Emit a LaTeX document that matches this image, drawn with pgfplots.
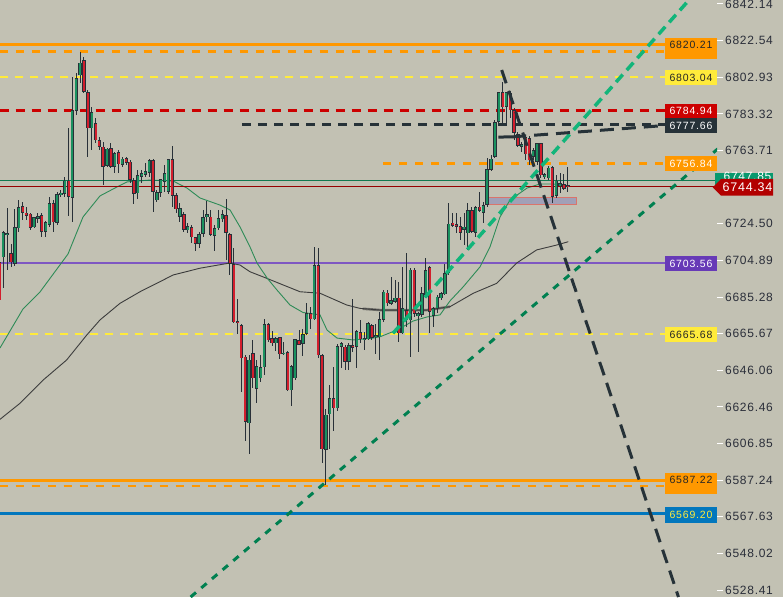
\documentclass[border=0pt]{standalone}
\usepackage{pgfplots}
\pgfplotsset{compat=1.18}
\usepackage{pgfplotstable}
\usepackage{fontspec}
\setmainfont{Liberation Sans}
\newfontfamily\tagfont{Liberation Sans}[LetterSpace=8]
\newfontfamily\pricefont{Liberation Sans}[LetterSpace=6]

\definecolor{bg}{RGB}{194,193,179}
\definecolor{upc}{RGB}{26,145,95}
\definecolor{dnc}{RGB}{210,30,45}
\definecolor{wick}{RGB}{40,48,56}
\definecolor{orangeL}{RGB}{255,152,0}
\definecolor{yellowL}{RGB}{255,235,59}
\definecolor{redL}{RGB}{204,0,0}
\definecolor{darkL}{RGB}{38,50,56}
\definecolor{purpleL}{RGB}{126,87,194}
\definecolor{purpleB}{RGB}{103,58,183}
\definecolor{blueL}{RGB}{2,119,189}
\definecolor{trendG}{RGB}{18,181,122}
\definecolor{trendD}{RGB}{0,128,80}
\definecolor{maG}{RGB}{46,139,87}
\definecolor{maK}{RGB}{60,60,60}
\definecolor{lineG}{RGB}{16,120,80}
\definecolor{lineR}{RGB}{150,0,0}
\definecolor{tagR}{RGB}{178,0,0}
\definecolor{tagG}{RGB}{8,153,110}
\definecolor{scaletext}{RGB}{42,46,57}

% candles: index, open, high, low, close
\pgfplotstableread{
i o h l c
0 6704.0 6706.7 6680.5 6683.7
1 6706.5 6720.8 6690.1 6720.2
2 6718.9 6732.9 6699.7 6719.7
3 6708.7 6713.7 6701.4 6703.9
4 6703.1 6732.4 6701.9 6722.6
5 6722.1 6737.2 6720.2 6733.3
6 6734.0 6736.3 6726.5 6730.6
7 6730.4 6733.6 6726.5 6728.8
8 6730.1 6730.3 6721.2 6722.6
9 6722.6 6728.3 6722.1 6728.0
10 6727.4 6730.3 6724.9 6728.7
11 6729.3 6730.3 6717.4 6720.2
12 6720.2 6726.1 6717.4 6725.3
13 6723.8 6739.0 6722.9 6735.5
14 6735.5 6737.2 6720.2 6725.3
15 6725.1 6741.7 6723.8 6740.3
16 6740.1 6742.6 6739.0 6741.1
17 6740.4 6749.7 6739.0 6747.6
18 6747.6 6775.6 6728.8 6739.0
19 6738.5 6803.2 6725.6 6785.4
20 6785.0 6805.4 6782.7 6802.4
21 6804.1 6816.4 6799.7 6810.9
22 6812.2 6813.6 6794.3 6795.2
23 6795.0 6796.1 6760.1 6775.6
24 6775.6 6787.2 6764.0 6784.3
25 6778.3 6781.1 6767.6 6769.3
26 6769.3 6771.1 6764.0 6765.8
27 6765.8 6768.4 6745.2 6755.0
28 6755.6 6765.2 6754.7 6764.9
29 6764.9 6767.6 6754.2 6755.0
30 6755.0 6763.1 6751.5 6762.2
31 6762.8 6764.0 6751.5 6756.3
32 6756.3 6760.1 6755.0 6759.5
33 6759.5 6760.4 6756.0 6757.2
34 6757.7 6758.6 6746.2 6747.9
35 6747.9 6748.8 6735.1 6740.4
36 6740.8 6753.3 6738.1 6750.6
37 6749.7 6753.3 6746.2 6751.8
38 6751.0 6756.9 6749.7 6752.7
39 6751.8 6759.5 6749.7 6758.6
40 6758.6 6759.5 6731.0 6741.7
41 6737.2 6742.6 6736.1 6741.7
42 6741.3 6748.8 6739.0 6748.3
43 6747.0 6756.0 6741.7 6751.8
44 6741.7 6759.5 6740.8 6759.0
45 6759.0 6766.1 6733.6 6739.4
46 6739.9 6740.8 6730.1 6732.2
47 6728.3 6735.5 6725.6 6732.8
48 6729.7 6731.0 6720.2 6721.5
49 6721.2 6724.7 6719.4 6723.3
50 6722.9 6723.8 6714.0 6717.3
51 6717.3 6717.6 6710.1 6713.7
52 6713.7 6720.2 6711.4 6719.0
53 6719.0 6731.9 6717.6 6728.0
54 6728.0 6736.8 6725.6 6729.6
55 6728.3 6731.9 6717.9 6718.5
56 6717.9 6723.8 6710.1 6722.1
57 6722.1 6731.9 6721.2 6727.4
58 6727.0 6731.9 6725.6 6729.6
59 6729.2 6737.6 6705.1 6719.7
60 6719.0 6719.6 6697.1 6703.0
61 6703.0 6711.4 6671.2 6671.7
62 6672.4 6684.1 6665.5 6671.2
63 6670.3 6671.2 6634.6 6652.5
64 6653.3 6654.2 6608.4 6618.5
65 6617.7 6654.2 6601.6 6651.9
66 6655.2 6662.3 6636.4 6641.8
67 6636.4 6651.6 6628.7 6648.4
68 6641.8 6654.2 6640.0 6647.7
69 6647.7 6673.4 6643.5 6670.8
70 6670.8 6671.5 6661.4 6662.3
71 6663.2 6667.3 6659.1 6660.5
72 6660.5 6664.0 6656.5 6663.2
73 6663.7 6664.0 6651.9 6654.6
74 6654.8 6661.4 6654.2 6655.7
75 6655.7 6656.5 6635.1 6635.5
76 6635.5 6648.9 6626.9 6648.4
77 6641.8 6663.2 6641.2 6662.7
78 6662.3 6667.6 6659.6 6660.0
79 6660.0 6668.5 6653.7 6665.5
80 6665.5 6682.2 6664.9 6676.6
81 6676.6 6680.1 6668.5 6673.4
82 6673.4 6711.9 6673.0 6702.4
83 6702.4 6711.9 6652.6 6654.2
84 6654.2 6654.8 6596.3 6603.8
85 6603.8 6625.3 6584.7 6622.5
86 6622.5 6638.2 6603.8 6631.1
87 6631.1 6647.7 6613.7 6625.7
88 6625.7 6660.5 6624.4 6659.1
89 6658.7 6661.4 6647.1 6660.5
90 6658.7 6659.6 6646.2 6650.7
91 6650.7 6660.5 6646.2 6659.6
92 6659.6 6684.1 6656.0 6658.2
93 6658.7 6667.6 6647.4 6667.1
94 6666.7 6673.0 6660.5 6662.7
95 6662.3 6666.7 6656.9 6663.2
96 6662.7 6672.1 6662.3 6671.2
97 6670.3 6670.8 6662.3 6663.7
98 6663.7 6671.2 6655.2 6664.9
99 6663.7 6677.4 6651.6 6673.4
100 6673.0 6689.4 6672.1 6688.1
101 6687.6 6689.0 6680.5 6681.9
102 6681.9 6695.8 6681.0 6683.7
103 6682.8 6694.4 6681.9 6685.1
104 6685.1 6693.5 6661.4 6665.9
105 6665.9 6701.2 6665.5 6679.2
106 6678.3 6708.7 6669.4 6673.0
107 6673.0 6700.7 6653.0 6700.1
108 6700.1 6700.7 6674.7 6676.6
109 6675.3 6677.4 6656.0 6676.6
110 6675.7 6690.5 6674.7 6687.3
111 6686.4 6706.5 6685.5 6699.7
112 6701.2 6701.9 6665.9 6677.4
113 6675.1 6680.1 6669.4 6679.2
114 6679.2 6686.4 6676.6 6685.5
115 6684.6 6688.1 6683.7 6687.3
116 6686.9 6703.0 6686.4 6698.3
117 6698.3 6735.5 6697.1 6724.7
118 6725.1 6730.1 6722.9 6723.5
119 6724.4 6730.4 6719.7 6722.9
120 6723.3 6728.3 6715.8 6719.7
121 6721.2 6730.1 6713.1 6722.9
122 6719.4 6735.5 6710.5 6731.9
123 6731.9 6733.6 6719.4 6720.2
124 6719.7 6734.0 6717.6 6733.6
125 6733.6 6741.7 6731.0 6731.5
126 6730.4 6736.3 6724.7 6734.5
127 6734.5 6759.5 6733.6 6753.7
128 6753.3 6761.3 6752.9 6759.5
129 6760.4 6780.0 6759.5 6779.1
130 6779.1 6795.2 6778.3 6794.9
131 6794.9 6800.5 6778.3 6786.8
132 6787.2 6795.2 6777.4 6794.9
133 6794.9 6795.7 6781.0 6785.4
134 6785.4 6786.5 6769.3 6773.1
135 6772.6 6773.8 6765.4 6766.3
136 6765.8 6768.4 6763.1 6767.2
137 6770.8 6771.5 6758.6 6761.8
138 6770.4 6771.5 6756.0 6758.6
139 6760.2 6765.1 6758.6 6764.0
140 6757.6 6767.7 6756.0 6767.6
141 6767.6 6767.7 6749.0 6750.6
142 6749.5 6751.7 6748.5 6751.1
143 6749.0 6755.4 6747.9 6754.7
144 6754.7 6755.4 6735.6 6739.0
145 6739.4 6750.6 6738.3 6747.6
146 6744.7 6751.7 6741.0 6746.3
147 6745.8 6751.1 6742.6 6743.1
148 6745.3 6755.0 6741.7 6744.34
}\candles

% fast moving average
\pgfplotstableread{
i p
0.13 6658.0
6.12 6678.9
10.55 6688.0
17.84 6708.3
21.74 6728.1
26.17 6739.4
30.60 6744.2
33.20 6746.9
39.19 6747.9
45.18 6747.4
48.83 6743.6
52.21 6738.3
57.42 6734.5
60.03 6731.9
62.63 6722.8
65.23 6712.1
67.06 6703.5
69.66 6695.5
72.27 6689.0
75.65 6681.0
79.04 6677.0
83.46 6675.7
85.29 6667.6
87.89 6663.3
92.06 6662.3
97.27 6663.3
99.09 6664.0
103.52 6667.6
107.68 6672.4
111.33 6674.6
114.71 6675.7
117.32 6683.2
120.70 6690.6
125.13 6701.4
127.73 6712.1
130.34 6728.1
132.94 6737.2
137.37 6743.6
140.76 6745.8
144.14 6745.8
147.79 6744.7
}\maFast

% slow moving average
\pgfplotstableread{
i p
0.13 6619.8
5.34 6628.4
11.41 6640.9
17.50 6651.6
22.71 6664.9
26.17 6673.0
31.38 6681.9
36.59 6688.1
45.26 6697.1
52.21 6700.7
60.03 6703.5
62.63 6702.4
65.23 6698.8
69.58 6695.3
73.91 6691.7
78.26 6688.1
83.46 6687.3
90.42 6681.0
93.88 6679.2
99.09 6678.3
111.33 6678.3
117.32 6680.1
123.39 6687.3
129.48 6692.6
134.69 6703.5
139.90 6710.5
145.10 6713.1
148.13 6714.9
}\maSlow

\begin{document}
\begin{tikzpicture}
\fill[bg] (0,0) rectangle (783pt,597pt);
\begin{axis}[
  width=717pt, height=597pt, scale only axis,
  xmin=0.13, xmax=186.85, ymin=6524.69, ymax=6844.28,
  axis line style={draw=none},
  xtick=\empty,
  ytick={6528.41,6548.02,6567.63,6587.24,6606.85,6626.46,6646.06,6665.67,6685.28,6704.89,6724.50,6763.71,6783.32,6802.93,6822.54,6842.14},
  yticklabels={6528.41,6548.02,6567.63,6587.24,6606.85,6626.46,6646.06,6665.67,6685.28,6704.89,6724.50,6763.71,6783.32,6802.93,6822.54,6842.14},
  ytick pos=right, tick align=outside, major tick length=6pt,
  ytick style={white, line width=1pt},
  yticklabel style={anchor=west, inner sep=0pt, xshift=2pt,
    font=\pricefont\fontsize{12}{14}\selectfont, text=scaletext},
  clip mode=individual,
  candle/.style={draw=none, mark=none, forget plot,
    error bars/y dir=both, error bars/y explicit, error bars/error mark=none,
    error bars/error bar style={#1}},
]

% horizontal levels
\addplot[orangeL, line width=3pt] coordinates {(0,6820.21) (173.31,6820.21)};
\addplot[orangeL, line width=2.5pt, dash pattern=on 8pt off 8pt] coordinates {(0,6816.6) (173.31,6816.6)};
\addplot[yellowL, line width=2pt, dash pattern=on 8pt off 7pt] coordinates {(0,6803.04) (173.31,6803.04)};
\addplot[redL, line width=3pt, dash pattern=on 9pt off 7pt] coordinates {(0,6784.94) (173.31,6784.94)};
\addplot[darkL, line width=3pt, dash pattern=on 9pt off 7pt] coordinates {(63.15,6777.66) (173.31,6777.66)};
\addplot[orangeL, line width=2.5pt, dash pattern=on 8pt off 8pt] coordinates {(99.87,6756.84) (173.31,6756.84)};
\addplot[purpleL, line width=2pt] coordinates {(0,6703.56) (173.31,6703.56)};
\addplot[yellowL, line width=2pt, dash pattern=on 8pt off 7pt] coordinates {(0,6665.68) (173.31,6665.68)};
\addplot[orangeL, line width=3pt] coordinates {(0,6587.22) (173.31,6587.22)};
\addplot[orangeL, line width=2.5pt, dash pattern=on 8pt off 8pt] coordinates {(0,6584.1) (173.31,6584.1)};
\addplot[blueL, line width=3pt] coordinates {(0,6569.20) (173.31,6569.20)};

% zone
\addplot[fill=gray!45!blue!30!bg, draw=red!40!bg, line width=1pt, fill opacity=0.8] coordinates {(127.29,6738.66) (150.31,6738.66) (150.31,6735.07) (127.29,6735.07) (127.29,6738.66)};

% moving averages
\addplot[maK, line width=0.9pt] table[x=i, y=p] {\maSlow};
\addplot[maK, line width=2.5pt, opacity=0.6] coordinates {(94.6,6679.0) (99.09,6678.3) (111.33,6678.3) (117.32,6680.1)};
\addplot[maG, line width=0.9pt] table[x=i, y=p] {\maFast};

% current price lines
\addplot[lineG, line width=1pt] coordinates {(0,6747.85) (187,6747.85)};
\addplot[lineR, line width=1pt] coordinates {(0,6744.34) (187,6744.34)};

% candles: wicks, body outlines, fills
\addplot[candle={draw=wick, line width=1pt}]
  table[x=i, y expr={(\thisrow{h}+\thisrow{l})/2}, y error expr={(\thisrow{h}-\thisrow{l})/2}] {\candles};
\addplot[candle={draw=wick, line width=3.4pt}]
  table[x=i, y expr={(\thisrow{o}+\thisrow{c})/2}, y error expr={max(abs(\thisrow{o}-\thisrow{c})/2,0.4)}] {\candles};
\addplot[candle={draw=upc, line width=2pt}, restrict expr to domain={\thisrow{c}-\thisrow{o}}{0:10000}]
  table[x=i, y expr={(\thisrow{o}+\thisrow{c})/2}, y error expr={max(abs(\thisrow{o}-\thisrow{c})/2-0.35,0.01)}] {\candles};
\addplot[candle={draw=dnc, line width=2pt}, restrict expr to domain={\thisrow{c}-\thisrow{o}}{-10000:-0.001}]
  table[x=i, y expr={(\thisrow{o}+\thisrow{c})/2}, y error expr={max(abs(\thisrow{o}-\thisrow{c})/2-0.35,0.01)}] {\candles};

% trend lines
\addplot[trendD, line width=3pt, dash pattern=on 7pt off 7pt] coordinates {(49.77,6524.69) (187.11,6764.68)};
\addplot[trendG, line width=3.5pt, dash pattern=on 10pt off 6pt] coordinates {(102.47,6665.85) (179.56,6844.28)};
\addplot[darkL, line width=3pt, dash pattern=on 14pt off 8pt] coordinates {(130.78,6806.81) (176.82,6524.69)};
\addplot[darkL, line width=3pt] coordinates {(129.9,6770.9) (133.5,6771.0)};
\addplot[darkL, line width=3pt, dash pattern=on 14pt off 8pt] coordinates {(133.5,6771.0) (173.31,6777.1)};

% price tags
\fill[orangeL] (axis cs:173.31,6823.78) rectangle (axis cs:186.85,6812.53);
\node[font=\tagfont\fontsize{10.5}{12}\selectfont, text=black!85] at (axis cs:180.08,6820.2) {6820.21};
\fill[yellowL] (axis cs:173.31,6806.81) rectangle (axis cs:186.85,6798.78);
\node[font=\tagfont\fontsize{10.5}{12}\selectfont, text=black!85] at (axis cs:180.08,6802.8) {6803.04};
\fill[redL] (axis cs:173.31,6788.61) rectangle (axis cs:186.85,6780.95);
\node[font=\tagfont\fontsize{10.5}{12}\selectfont, text=white] at (axis cs:180.08,6784.8) {6784.94};
\fill[darkL] (axis cs:173.31,6780.95) rectangle (axis cs:186.85,6772.92);
\node[font=\tagfont\fontsize{10.5}{12}\selectfont, text=white] at (axis cs:180.08,6776.9) {6777.66};
\fill[orangeL] (axis cs:173.31,6760.77) rectangle (axis cs:186.85,6752.74);
\node[font=\tagfont\fontsize{10.5}{12}\selectfont, text=white] at (axis cs:180.08,6756.8) {6756.84};
\fill[purpleB] (axis cs:173.31,6707.24) rectangle (axis cs:186.85,6699.21);
\node[font=\tagfont\fontsize{10.5}{12}\selectfont, text=white] at (axis cs:180.08,6703.2) {6703.56};
\fill[yellowL] (axis cs:173.31,6669.39) rectangle (axis cs:186.85,6661.03);
\node[font=\tagfont\fontsize{10.5}{12}\selectfont, text=black!85] at (axis cs:180.08,6665.2) {6665.68};
\fill[orangeL] (axis cs:173.31,6591.07) rectangle (axis cs:186.85,6580.00);
\node[font=\tagfont\fontsize{10.5}{12}\selectfont, text=black!85] at (axis cs:180.08,6587.3) {6587.22};
\fill[blueL] (axis cs:173.31,6572.87) rectangle (axis cs:186.85,6564.46);
\node[font=\tagfont\fontsize{10.5}{12}\selectfont, text=yellowL] at (axis cs:180.08,6568.7) {6569.20};

\fill[tagG] (axis cs:186.2,6751.67) rectangle (axis cs:201.43,6743.64);
\node[font=\pricefont\fontsize{12}{14}\selectfont, text=white] at (axis cs:194.8,6749.6) {6747.85};
\fill[tagR] (axis cs:185.73,6744.0) -- (axis cs:187.89,6748.46) -- (axis cs:201.43,6748.46) -- (axis cs:201.43,6739.52) -- (axis cs:187.89,6739.52) -- cycle;
\node[font=\pricefont\fontsize{12.5}{14}\selectfont, text=white] at (axis cs:194.8,6744.0) {6744.34};
\end{axis}
\pgfresetboundingbox
\useasboundingbox (0,0) rectangle (783pt,597pt);
\end{tikzpicture}
\end{document}
